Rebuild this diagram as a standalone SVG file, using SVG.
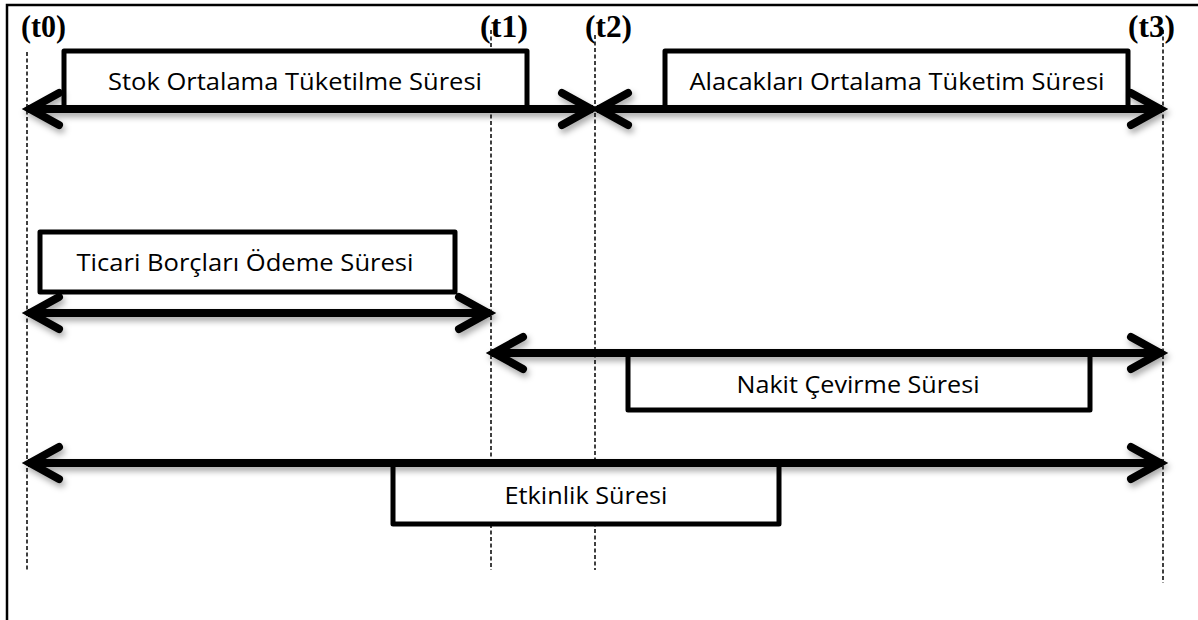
<svg xmlns="http://www.w3.org/2000/svg" width="1198" height="620" viewBox="0 0 1198 620">
<style>
.frame{stroke:#000;stroke-width:2.5;fill:none}
.guide{stroke:#000;stroke-width:1.5;stroke-dasharray:4 2.5;fill:none}
.tl{font-family:"Liberation Serif",serif;font-weight:bold;font-size:31px;fill:#000}
.box{fill:#fff;stroke:#000;stroke-width:5;stroke-linejoin:round}
.lbl{font-family:"Open Sans","Noto Sans",sans-serif;font-size:24px;fill:#000;text-anchor:middle}
.arr{stroke:#000;stroke-width:8;fill:none;marker-start:url(#head);marker-end:url(#head)}
</style>
<defs>
<marker id="head" markerUnits="userSpaceOnUse" orient="auto-start-reverse" markerWidth="60" markerHeight="60" refX="0" refY="0" viewBox="-40 -30 50 60" overflow="visible">
<path d="M-31,-16 L-2,0 L-31,16" fill="none" stroke="#000" stroke-width="8" stroke-linecap="round" stroke-linejoin="miter"/>
</marker>
<filter id="sh" x="-5%" y="-50%" width="110%" height="200%">
<feDropShadow dx="2" dy="4" stdDeviation="3" flood-color="#000" flood-opacity="0.35"/>
</filter>
</defs>
<rect x="0" y="0" width="1198" height="620" fill="#fff"/>
<path class="frame" d="M7,620 V5 H1198"/>
<g id="guides">
<line class="guide" x1="27" y1="52" x2="27" y2="570"/>
<line class="guide" x1="491" y1="30" x2="491" y2="570"/>
<line class="guide" x1="595" y1="35" x2="595" y2="570"/>
<line class="guide" x1="1163" y1="30" x2="1163" y2="583"/>
</g>
<g id="time-labels">
<text class="tl" x="21" y="37" textLength="45" lengthAdjust="spacingAndGlyphs">(t0)</text>
<text class="tl" x="480" y="37" textLength="48" lengthAdjust="spacingAndGlyphs">(t1)</text>
<text class="tl" x="585" y="37" textLength="47" lengthAdjust="spacingAndGlyphs">(t2)</text>
<text class="tl" x="1128" y="37" textLength="47" lengthAdjust="spacingAndGlyphs">(t3)</text>
</g>
<g id="node-stok">
<rect class="box" x="64" y="51" width="463" height="58"/>
<text class="lbl" x="295" y="90" textLength="374" lengthAdjust="spacingAndGlyphs">Stok Ortalama Tüketilme Süresi</text>
</g>
<g id="node-alacak">
<rect class="box" x="665" y="51" width="463" height="58"/>
<text class="lbl" x="897" y="90" textLength="415" lengthAdjust="spacingAndGlyphs">Alacakları Ortalama Tüketim Süresi</text>
</g>
<g id="node-ticari">
<rect class="box" x="40" y="232" width="415" height="60"/>
<text class="lbl" x="245" y="271" textLength="337" lengthAdjust="spacingAndGlyphs">Ticari Borçları Ödeme Süresi</text>
</g>
<g id="node-nakit">
<rect class="box" x="628" y="353" width="462" height="57"/>
<text class="lbl" x="858" y="393" textLength="243" lengthAdjust="spacingAndGlyphs">Nakit Çevirme Süresi</text>
</g>
<g id="node-etkinlik">
<rect class="box" x="393" y="463" width="386" height="61"/>
<text class="lbl" x="586" y="504" textLength="163" lengthAdjust="spacingAndGlyphs">Etkinlik Süresi</text>
</g>
<g id="connectors" filter="url(#sh)">
<line class="arr" x1="28" y1="109" x2="593" y2="109"/>
<line class="arr" x1="597" y1="109" x2="1162" y2="109"/>
<line class="arr" x1="28" y1="313" x2="490" y2="313"/>
<line class="arr" x1="492" y1="353" x2="1162" y2="353"/>
<line class="arr" x1="28" y1="463" x2="1162" y2="463"/>
</g>
</svg>
